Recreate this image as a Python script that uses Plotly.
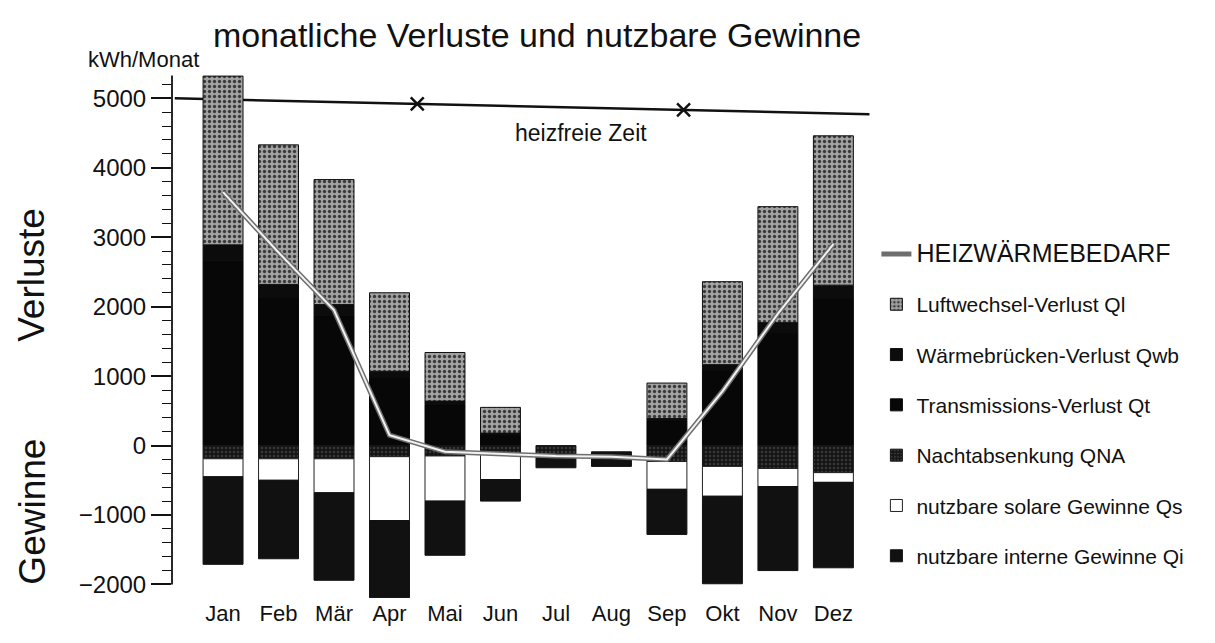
import plotly.graph_objects as go

months = ["Jan", "Feb", "Mär", "Apr", "Mai", "Jun", "Jul", "Aug", "Sep", "Okt", "Nov", "Dez"]
x_pos = list(range(len(months)))

# Verluste (positive), kWh/Monat
transmission = [2660, 2130, 1870, 980, 590, 160, 0, 0, 360, 1075, 1630, 2120]
waermebruecken = [230, 190, 160, 90, 50, 20, 0, 0, 30, 90, 140, 190]
luftwechsel = [2430, 2010, 1800, 1130, 700, 370, 0, 0, 510, 1195, 1670, 2150]

# Gewinne (negative), kWh/Monat
nachtabsenkung = [-190, -190, -190, -160, -150, -115, -170, 0, -230, -300, -330, -390]
solar = [-260, -310, -490, -920, -650, -375, 0, -90, -400, -430, -260, -140]
intern = [-1260, -1130, -1260, -1110, -780, -310, -150, -210, -650, -1260, -1210, -1230]

# Heizwärmebedarf
heizwaermebedarf = [3650, 2780, 1950, 150, -90, -120, -150, -160, -200, 780, 1900, 2900]

# heizfreie Zeit (Grenzen)
heizfrei_x = [3.5, 8.3]
heizfrei_y = [4920, 4832]
heizfrei_line = dict(x0=-0.87, y0=5000, x1=11.65, y1=4770)

y_ticks = [-2000, -1000, 0, 1000, 2000, 3000, 4000, 5000]

FONT = "Liberation Sans, Arial, Helvetica, sans-serif"
INK = "#111111"
bw = 0.72


def lw(values, w=1):
    # no outline on empty (zero-height) segments
    return [0 if v == 0 else w for v in values]


solar_line_w = [0 if v == 0 or n == 0 else 1 for v, n in zip(solar, nachtabsenkung)]

fig = go.Figure()

fig.add_trace(go.Bar(x=x_pos, y=transmission, width=bw, name="Transmissions-Verlust Qt",
                     marker=dict(color="#070707", line=dict(color="#070707", width=lw(transmission))),
                     legendrank=4, legendgroup="t"))
fig.add_trace(go.Bar(x=x_pos, y=waermebruecken, width=bw, name="Wärmebrücken-Verlust Qwb",
                     marker=dict(color="#0c0c0c", line=dict(color="#0c0c0c", width=lw(waermebruecken))),
                     legendrank=3, legendgroup="wb"))
fig.add_trace(go.Bar(x=x_pos, y=luftwechsel, width=bw, name="Luftwechsel-Verlust Ql",
                     marker=dict(color="#999999", line=dict(color=INK, width=lw(luftwechsel)),
                                 pattern=dict(shape=".", fgcolor="#3a3a3a", bgcolor="#a2a2a2",
                                              size=5, solidity=0.35, fillmode="replace")),
                     legendrank=2, legendgroup="l"))
fig.add_trace(go.Bar(x=x_pos, y=nachtabsenkung, width=bw, name="Nachtabsenkung QNA",
                     marker=dict(color="#151515", line=dict(color="#151515", width=lw(nachtabsenkung)),
                                 pattern=dict(shape=".", fgcolor="#383838", bgcolor="#151515",
                                              size=4, solidity=0.3, fillmode="replace")),
                     legendrank=5, legendgroup="na"))
fig.add_trace(go.Bar(x=x_pos, y=solar, width=bw, name="nutzbare solare Gewinne Qs",
                     marker=dict(color="#ffffff", line=dict(color="#222222", width=solar_line_w)),
                     legendrank=6, legendgroup="s"))
fig.add_trace(go.Bar(x=x_pos, y=intern, width=bw, name="nutzbare interne Gewinne Qi",
                     marker=dict(color="#111111", line=dict(color=INK, width=lw(intern))),
                     legendrank=7, legendgroup="i"))

# Heizwärmebedarf: light line with dark edges
fig.add_trace(go.Scatter(x=x_pos, y=heizwaermebedarf, mode="lines",
                         name='<span style="font-size:25px">HEIZWÄRMEBEDARF</span>',
                         line=dict(color="#6e6e6e", width=5), legendrank=1, legendgroup="h"))
fig.add_trace(go.Scatter(x=x_pos, y=heizwaermebedarf, mode="lines", showlegend=False,
                         line=dict(color="#f2f2f2", width=2), hoverinfo="skip"))

# heizfreie Zeit markers
fig.add_trace(go.Scatter(x=heizfrei_x, y=heizfrei_y, mode="markers", showlegend=False,
                         marker=dict(symbol="x-thin", size=13, line=dict(color=INK, width=2.5)),
                         hoverinfo="skip"))

fig.add_shape(type="line", xref="x", yref="y", layer="below",
              line=dict(color=INK, width=2.5), **heizfrei_line)
fig.add_shape(type="line", xref="paper", yref="y", x0=0, x1=0, y0=-2000, y1=5330,
              line=dict(color=INK, width=1.8))

fig.add_annotation(x=6.45, y=4504, xref="x", yref="y", text="heizfreie Zeit", showarrow=False,
                   xanchor="center", yanchor="middle",
                   font=dict(size=23, family=FONT, color=INK))
fig.add_annotation(x=-0.041, y=1.027, xref="paper", yref="paper", text="kWh/Monat", showarrow=False,
                   xanchor="center", yanchor="middle",
                   font=dict(size=22, family=FONT, color=INK))
fig.add_annotation(x=-0.199, y=0.617, xref="paper", yref="paper", text="Verluste", showarrow=False,
                   xanchor="center", yanchor="middle", textangle=-90,
                   font=dict(size=37, family=FONT, color=INK))
fig.add_annotation(x=-0.199, y=0.165, xref="paper", yref="paper", text="Gewinne", showarrow=False,
                   xanchor="center", yanchor="middle", textangle=-90,
                   font=dict(size=37, family=FONT, color=INK))

fig.update_layout(
    width=1207, height=635,
    margin=dict(l=164, r=340, t=66, b=45),
    barmode="relative",
    plot_bgcolor="white", paper_bgcolor="white",
    font=dict(family=FONT, color=INK),
    title=dict(text="monatliche Verluste und nutzbare Gewinne", x=0.4383, y=0.9575,
               xanchor="center", yanchor="middle", xref="container", yref="container",
               font=dict(size=34, family=FONT, color=INK)),
    legend=dict(x=1.002, y=0.695, xanchor="left", yanchor="top", traceorder="grouped",
                tracegroupgap=20, font=dict(size=21, family=FONT, color=INK),
                bgcolor="rgba(0,0,0,0)"),
    showlegend=True,
)
fig.update_xaxes(range=[-0.92, 11.75], tickvals=x_pos, ticktext=months, showline=False,
                 showgrid=False, zeroline=False, ticks="",
                 tickfont=dict(size=22, family=FONT, color=INK))
fig.update_yaxes(range=[-2195, 5350], tickvals=y_ticks, ticks="outside", ticklen=20, tickwidth=1.6,
                 tickcolor=INK, showgrid=False, zeroline=False, showline=False,
                 tickfont=dict(size=24, family=FONT, color=INK),
                 minor=dict(tickmode="linear", tick0=0, dtick=200, ticks="outside", ticklen=9,
                            tickwidth=1.2, tickcolor=INK, showgrid=False))

fig.write_html("out.html")
